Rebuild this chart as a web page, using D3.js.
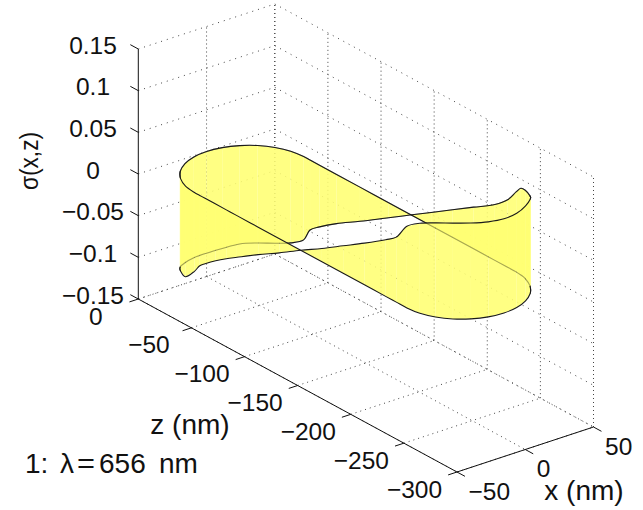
<!DOCTYPE html>
<html lang="en">
<head>
<meta charset="UTF-8">
<title>Surface charge, 656 nm</title>
<script src="https://d3js.org/d3.v7.min.js"></script>
<style>
    html, body { margin: 0; padding: 0; background: #fff; }
    text { font-family: "Liberation Sans", Arial, sans-serif; fill: #111; }
</style>
</head>
<body>
<div id="chart"></div>
<script>
// ticks
var sigmaTicks = [-0.15, -0.1, -0.05, 0, 0.05, 0.1, 0.15];
var sigmaLabels = ['\u22120.15', '\u22120.1', '\u22120.05', '0', '0.05', '0.1', '0.15'];
var zTicks = [0, -50, -100, -150, -200, -250, -300];
var zLabels = ['0', '\u221250', '\u2212100', '\u2212150', '\u2212200', '\u2212250', '\u2212300'];
var xTicks = [-50, 0, 50];
var xLabels = ['\u221250', '0', '50'];

// slit contour, far side (seen through the near side)
var backX = [-31.5, -28.3, -20, -10.4, 0, 10.4, 20, 28.3, 34.6, 38.6, 40, 40, 40, 40, 40, 40, 40, 40, 40, 40, 40, 40, 40, 39.6, 38.6, 34.6, 31.5];
var backZ = [-15.4, -11.7, -5.4, -1.4, 0, -1.4, -5.4, -11.7, -20, -29.6, -40, -46, -55, -71, -93, -120, -140, -160, -180, -200, -220, -232, -240, -245, -250.4, -260, -264.6];
var backSigma = [-0.113, -0.115, -0.119, -0.121, -0.122, -0.121, -0.118, -0.117, -0.115, -0.110, -0.100, -0.084, -0.074, -0.059, -0.041, -0.018, -0.001, 0.016, 0.033, 0.050, 0.067, 0.081, 0.096, 0.104, 0.106, 0.108, 0.111];

// near side
var frontX = [31.5, 28.3, 20, 10.4, 0, -10.4, -20, -28.3, -34.6, -38.6, -40, -40, -40, -40, -40, -40, -40, -40, -40, -40, -40, -40, -40, -40, -40, -38.6, -34.6, -31.5];
var frontZ = [-264.6, -268.3, -274.6, -278.6, -280, -278.6, -274.6, -268.3, -260, -250.4, -240, -230, -220, -200, -180, -160, -140, -120, -100, -80, -70, -60, -50, -45, -40, -29.6, -20, -15.4];
var frontSigma = [0.111, 0.113, 0.114, 0.113, 0.113, 0.114, 0.115, 0.115, 0.113, 0.108, 0.098, 0.078, 0.068, 0.050, 0.033, 0.016, 0, -0.017, -0.033, -0.050, -0.0586, -0.068, -0.0786, -0.0844, -0.0945, -0.109, -0.111, -0.113];

var width = 643, height = 510;

// fixed view of the box, each data axis has its own screen offset
var originX = 138.3;
var xToH = d3.scaleLinear().domain([-50, 50]).range([0, 136.5]);
var xToV = d3.scaleLinear().domain([-50, 50]).range([0, -45]);
var zToH = d3.scaleLinear().domain([0, -300]).range([0, 318.7]);
var zToV = d3.scaleLinear().domain([0, -300]).range([0, 173]);
var sigmaToV = d3.scaleLinear().domain([-0.15, 0.15]).range([299, 49]);

function project(x, z, s) {
    return [originX + xToH(x) + zToH(z), sigmaToV(s) + xToV(x) + zToV(z)];
}

var svg = d3.select('#chart').append('svg')
    .attr('width', width)
    .attr('height', height)
    .style('display', 'block');

function seg(a, b, cls) {
    return svg.append('line')
        .attr('class', cls)
        .attr('x1', a[0]).attr('y1', a[1])
        .attr('x2', b[0]).attr('y2', b[1]);
}

// grid
var xMin = -50, xMax = 50, zMin = -300, zMax = 0, sMin = -0.15, sMax = 0.15;
var gridG = [];
sigmaTicks.forEach(function(s) {
    gridG.push([project(xMin, zMax, s), project(xMax, zMax, s), '1 5']);
    gridG.push([project(xMax, zMax, s), project(xMax, zMin, s), '1 5']);
});
xTicks.forEach(function(x) {
    if (x > xMin) gridG.push([project(x, zMax, sMin), project(x, zMax, sMax), '1 3']);
    gridG.push([project(x, zMax, sMin), project(x, zMin, sMin), '1 4']);
});
zTicks.forEach(function(z) {
    gridG.push([project(xMax, z, sMin), project(xMax, z, sMax), '1 3']);
    gridG.push([project(xMin, z, sMin), project(xMax, z, sMin), '1 4']);
});
gridG.forEach(function(g) {
    seg(g[0], g[1], 'grid')
        .attr('stroke', '#444')
        .attr('stroke-width', 1)
        .attr('stroke-dasharray', g[2]);
});

// ribbon: strips from sigma=0 to sigma, then the two edges
var edge = d3.line().curve(d3.curveCatmullRom.alpha(0.5));

function zeroEdge(xs, zs) {
    return xs.map(function(x, i) { return project(x, zs[i], 0); });
}
function sigmaEdge(xs, zs, sigmas) {
    return xs.map(function(x, i) { return project(x, zs[i], sigmas[i]); });
}
function drawStrips(xs, zs, sigmas) {
    var zero = zeroEdge(xs, zs), top = sigmaEdge(xs, zs, sigmas);
    svg.append('g').selectAll('path')
        .data(d3.range(xs.length - 1))
        .join('path')
        .attr('d', function(i) {
            return 'M' + [zero[i], zero[i + 1], top[i + 1], top[i]].join('L') + 'Z';
        })
        .attr('fill', '#ffff72')
        .attr('fill-opacity', 0.88);
}
// edges get the neighbour point of the other half so the joins stay round
function drawEdge(pts, before, after, op) {
    svg.append('path')
        .attr('d', edge([before].concat(pts, [after])))
        .attr('fill', 'none')
        .attr('stroke', '#1a1a1a')
        .attr('stroke-width', 1.1)
        .attr('stroke-opacity', op);
}

var bz = zeroEdge(backX, backZ), bs = sigmaEdge(backX, backZ, backSigma);
var fz = zeroEdge(frontX, frontZ), fs = sigmaEdge(frontX, frontZ, frontSigma);
var n = frontX.length, m = backX.length;

drawStrips(backX, backZ, backSigma);
drawEdge(bz, fz[n - 2], fz[1], 1);
drawEdge(bs, fs[n - 2], fs[1], 1);
drawStrips(frontX, frontZ, frontSigma);
// back edges still show faintly through the near side
drawEdge(bz, fz[n - 2], fz[1], 0.3);
drawEdge(bs, fs[n - 2], fs[1], 0.3);
drawEdge(fz, bz[m - 2], bz[1], 1);
drawEdge(fs, bs[m - 2], bs[1], 1);

// axes
function axisLine(a, b) {
    seg(a, b, 'axis').attr('stroke', '#111').attr('stroke-width', 1);
}
axisLine(project(xMin, zMax, sMin), project(xMin, zMax, sMax));
axisLine(project(xMin, zMax, sMin), project(xMin, zMin, sMin));
axisLine(project(xMin, zMin, sMin), project(xMax, zMin, sMin));
sigmaTicks.forEach(function(s) {
    axisLine(project(xMin, zMax, s), project(xMin, zMax + 7.5, s));
});
zTicks.forEach(function(z) {
    axisLine(project(xMin, z, sMin), project(xMin - 6.5, z, sMin));
});
xTicks.forEach(function(x) {
    axisLine(project(x, zMin, sMin), project(x, zMin - 7.5, sMin));
});

// labels
var fontSize = 24.5;
function label(x, y, str, anchor, size) {
    return svg.append('text')
        .attr('x', x).attr('y', y)
        .attr('text-anchor', anchor)
        .attr('dominant-baseline', 'central')
        .attr('font-size', size || fontSize)
        .text(str);
}
sigmaTicks.forEach(function(s, i) {
    label(93, sigmaToV(s) - 4, sigmaLabels[i], 'middle');
});
zTicks.forEach(function(z, i) {
    var p = project(xMin, z, sMin);
    label(p[0] - 42.5, p[1] + 17, zLabels[i], 'middle');
});
xTicks.forEach(function(x, i) {
    var p = project(x, zMin, sMin);
    label(p[0] + 11.5, p[1] + 19, xLabels[i], 'start');
});

label(190, 424, 'z (nm)', 'middle', 28);
label(584, 490, 'x (nm)', 'middle', 28);
svg.append('text')
    .attr('transform', 'translate(29,161) rotate(-90)')
    .attr('text-anchor', 'middle')
    .attr('dominant-baseline', 'central')
    .attr('font-size', 25)
    .attr('textLength', 58)
    .attr('lengthAdjust', 'spacingAndGlyphs')
    .text('\u03c3(x,z)');

var note = svg.append('text')
    .attr('y', 473)
    .attr('font-size', 28);
note.append('tspan').attr('x', 25).text('1:');
note.append('tspan').attr('x', 60).text('\u03bb');
note.append('tspan').attr('x', 77).attr('textLength', 18).attr('lengthAdjust', 'spacingAndGlyphs').text('=');
note.append('tspan').attr('x', 99).text('656');
note.append('tspan').attr('x', 159).text('nm');
</script>
</body>
</html>
